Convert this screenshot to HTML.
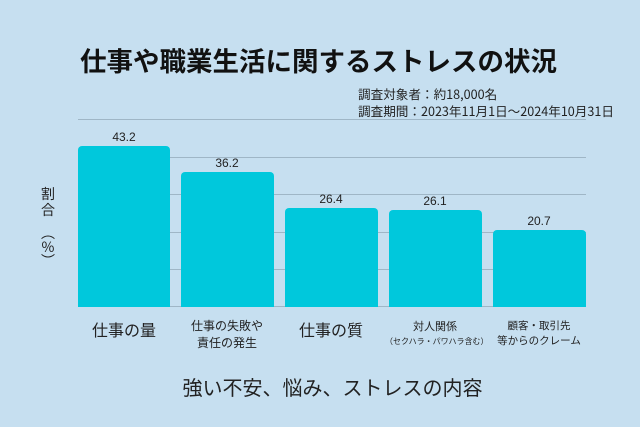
<!DOCTYPE html>
<html><head><meta charset="utf-8"><style>
body{margin:0;width:640px;height:427px;background:#c6dff0;position:relative;overflow:hidden;font-family:"Liberation Sans","Noto Sans CJK JP",sans-serif;color:#222}
.a{position:absolute}
.bar{position:absolute;background:#00c8dc;border-radius:4px 4px 0 0}
.grid{position:absolute;left:78px;width:508px;height:1px;background:#9fb6c6}
.v{position:absolute;width:100px;text-align:center;font-size:12px}
.l{position:absolute;text-align:center;white-space:nowrap}
</style></head><body>
<div class="a" style="left:80px;top:40px;font-size:26.5px;font-weight:bold;color:#111;white-space:nowrap">仕事や職業生活に関するストレスの状況</div>
<div class="a" style="left:358px;top:85px;font-size:12.6px;line-height:17px;white-space:nowrap;font-family:'Noto Sans CJK JP',sans-serif">調査対象者：約18,000名<br>調査期間：2023年11月1日～2024年10月31日</div>
<div class="grid" style="top:119px"></div>
<div class="grid" style="top:157px"></div>
<div class="grid" style="top:194px"></div>
<div class="grid" style="top:232px"></div>
<div class="grid" style="top:269px"></div>
<div class="grid" style="top:306px"></div>
<div class="a" style="left:40px;top:186px;width:16px;font-size:14px;line-height:16px;text-align:center">割<br>合</div>
<div class="a" style="left:40px;top:226px;width:16px;font-size:14px;line-height:14px;text-align:center;font-family:'Noto Sans CJK JP',sans-serif">︵<br>%<br>︶</div>
<div class="bar" style="left:78px;width:92px;top:146px;height:161px"></div>
<div class="bar" style="left:181px;width:93px;top:172px;height:135px"></div>
<div class="bar" style="left:285px;width:93px;top:208px;height:99px"></div>
<div class="bar" style="left:389px;width:93px;top:210px;height:97px"></div>
<div class="bar" style="left:493px;width:93px;top:230px;height:77px"></div>
<div class="v" style="left:74px;top:130px">43.2</div>
<div class="v" style="left:177px;top:156px">36.2</div>
<div class="v" style="left:281px;top:192px">26.4</div>
<div class="v" style="left:385px;top:194px">26.1</div>
<div class="v" style="left:489px;top:214px">20.7</div>
<div class="l" style="left:74px;width:100px;top:317px;font-size:16px">仕事の量</div>
<div class="l" style="left:177px;width:100px;top:318px;font-size:12px;line-height:17px">仕事の失敗や<br>責任の発生</div>
<div class="l" style="left:281px;width:100px;top:317px;font-size:16px">仕事の質</div>
<div class="l" style="left:385px;width:100px;top:320px;font-size:11px;line-height:14px">対人関係<br><span style="font-size:8px">（セクハラ・パワハラ含む）</span></div>
<div class="l" style="left:489px;width:100px;top:319px;font-size:10.5px;line-height:15px">顧客・取引先<br>等からのクレーム</div>
<div class="a" style="left:0;width:665px;top:372px;text-align:center;font-size:20px">強い不安、悩み、ストレスの内容</div>
</body></html>
